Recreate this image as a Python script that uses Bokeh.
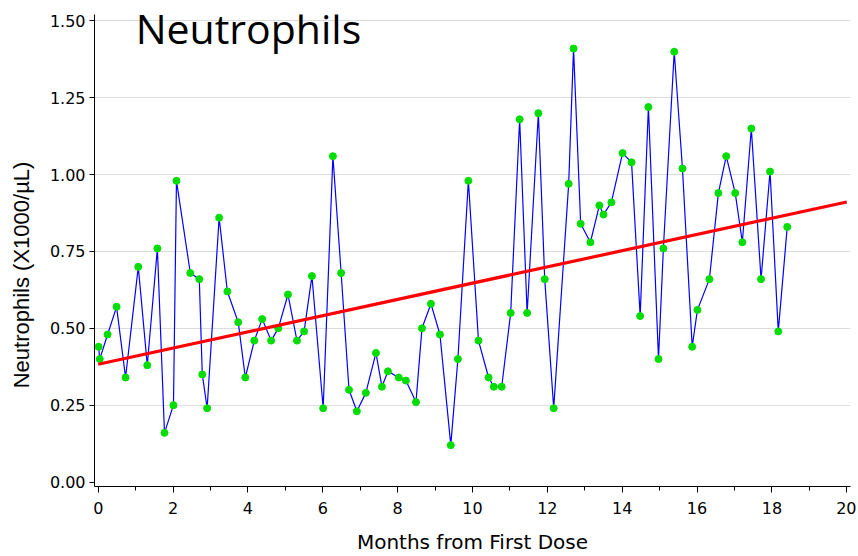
from bokeh.plotting import figure
from bokeh.models import Range1d, SingleIntervalTicker, FixedTicker, NumeralTickFormatter, Label
from bokeh.embed import file_html
from bokeh.resources import INLINE

months = [0.01, 0.04, 0.25, 0.49, 0.73, 1.07, 1.31, 1.58, 1.77, 2.01, 2.09, 2.46, 2.70, 2.78, 2.91,
          3.23, 3.45, 3.74, 3.93, 4.17, 4.38, 4.62, 4.81, 5.07, 5.31, 5.50, 5.71, 6.01, 6.27, 6.49,
          6.70, 6.91, 7.15, 7.42, 7.58, 7.74, 8.03, 8.22, 8.49, 8.65, 8.89, 9.13, 9.42, 9.61, 9.89,
          10.16, 10.43, 10.57, 10.78, 11.02, 11.26, 11.46, 11.76, 11.93, 12.17, 12.57, 12.70, 12.89,
          13.15, 13.39, 13.50, 13.71, 14.01, 14.25, 14.48, 14.70, 14.97, 15.10, 15.39, 15.61, 15.87,
          16.01, 16.33, 16.57, 16.78, 17.02, 17.21, 17.45, 17.71, 17.95, 18.17, 18.41]
neutrophils = [0.44, 0.40, 0.48, 0.57, 0.34, 0.70, 0.38, 0.76, 0.16, 0.25, 0.98, 0.68, 0.66, 0.35, 0.24,
               0.86, 0.62, 0.52, 0.34, 0.46, 0.53, 0.46, 0.50, 0.61, 0.46, 0.49, 0.67, 0.24, 1.06, 0.68,
               0.30, 0.23, 0.29, 0.42, 0.31, 0.36, 0.34, 0.33, 0.26, 0.50, 0.58, 0.48, 0.12, 0.40, 0.98,
               0.46, 0.34, 0.31, 0.31, 0.55, 1.18, 0.55, 1.20, 0.66, 0.24, 0.97, 1.41, 0.84,
               0.78, 0.90, 0.87, 0.91, 1.07, 1.04, 0.54, 1.22, 0.40, 0.76, 1.40, 1.02, 0.44,
               0.56, 0.66, 0.94, 1.06, 0.94, 0.78, 1.15, 0.66, 1.01, 0.49, 0.83]
trend_x = [0.0, 20.0]
trend_y = [0.383, 0.911]
y_ticks = [0.0, 0.25, 0.5, 0.75, 1.0, 1.25, 1.5]
grid_ticks = [0.25, 0.5, 0.75, 1.0, 1.25, 1.5]

p = figure(width=856, height=556, output_backend="svg", toolbar_location=None,
           x_range=Range1d(-0.10, 20.1), y_range=Range1d(-0.0146, 1.521),
           min_border_left=94, min_border_right=6, min_border_top=14, min_border_bottom=70)
p.outline_line_color = None
p.background_fill_color = "white"
p.border_fill_color = "white"

p.xgrid.visible = False
p.ygrid.ticker = FixedTicker(ticks=grid_ticks)
p.ygrid.grid_line_color = "#dcdcdc"
p.ygrid.grid_line_width = 1

p.line(months, neutrophils, line_color="#0000ff", line_width=1.2)
p.scatter(months, neutrophils, size=7, fill_color="#00dd00", line_color="#00dd00")
p.line(trend_x, trend_y, line_color="#ff0000", line_width=3.2)

xa = p.xaxis[0]
xa.ticker = SingleIntervalTicker(interval=2, num_minor_ticks=2)
xa.axis_label = "Months from First Dose"
xa.major_tick_out = 6
xa.major_tick_in = 0
xa.minor_tick_out = 4
xa.minor_tick_in = 0
xa.major_label_standoff = 9
xa.axis_label_standoff = 13
xa.axis_label_text_font = "DejaVu Sans"

ya = p.yaxis[0]
ya.ticker = FixedTicker(ticks=y_ticks)
ya.formatter = NumeralTickFormatter(format="0.00")
ya.axis_label = "Neutrophils (X1000/µL)" + "\u00a0" * 8
ya.major_tick_out = 5
ya.major_tick_in = 0
ya.minor_tick_line_color = None
ya.major_label_standoff = 4
ya.axis_label_standoff = 13
ya.axis_label_text_font = "Liberation Sans"

for ax in (xa, ya):
    ax.axis_line_color = "black"
    ax.axis_line_width = 1
    ax.major_tick_line_color = "black"
    ax.major_label_text_font = "DejaVu Sans"
    ax.major_label_text_font_size = "16px"
    ax.major_label_text_color = "black"
    ax.axis_label_text_font_size = "20px"
    ax.axis_label_text_font_style = "normal"
    ax.axis_label_text_color = "black"
ya.axis_label_text_font_size = "22px"
xa.minor_tick_line_color = "black"

title = Label(x=1.00, y=1.478, text="Neutrophils", text_font="Open Sans",
              text_font_size="41px", text_color="black", text_baseline="alphabetic")
p.add_layout(title)

open("out.html", "w").write(file_html(p, INLINE))
